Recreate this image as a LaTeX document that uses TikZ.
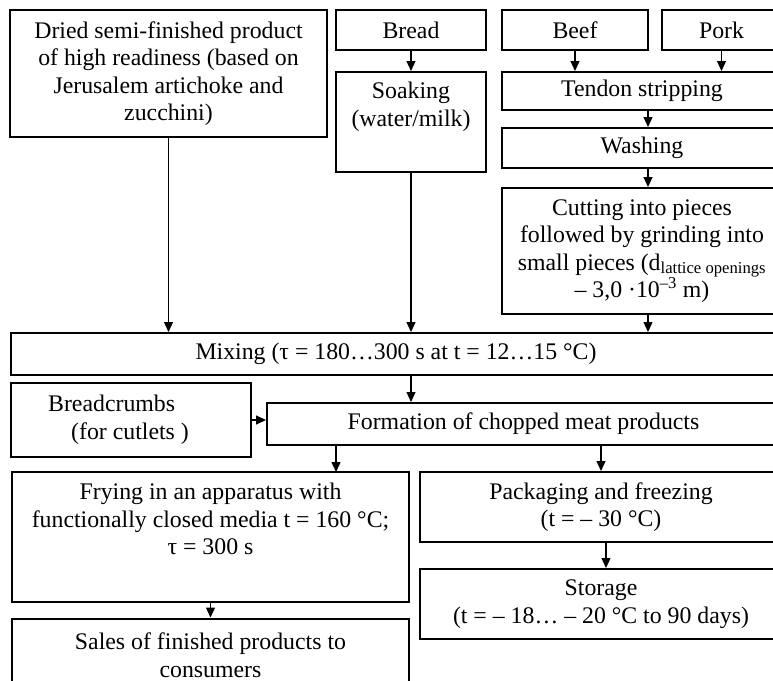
\documentclass[tikz,border=0pt]{standalone}
\usepackage{fontspec}
\setmainfont{Liberation Serif}
\usetikzlibrary{arrows.meta}

\begin{document}
\begin{tikzpicture}[x=1pt, y=-1pt,
		box/.style={draw, line width = 2pt, align=center, inner sep=0pt, font=\fontsize{23.8}{27.5}\selectfont},
		arr/.style={line width = 1.2pt, -{Triangle[length=10pt, width=9pt]}}]
		
		\useasboundingbox (0,0) rectangle (773,680);
		
		\node[box, minimum width=317pt, minimum height=127pt] (dried) at (168.5,73.5) {Dried semi-finished product\\of high readiness (based on\\Jerusalem artichoke and\\zucchini)};
		\node[box, minimum width=150pt, minimum height=40pt] (bread) at (411,30) {Bread};
		\node[box, minimum width=146pt, minimum height=40pt] (beef) at (575,30) {Beef};
		\node[box, minimum width=119pt, minimum height=40pt] (pork) at (721.5,30) {Pork};
		
		\node[box, minimum width=150pt, minimum height=100pt] (soak) at (411,122) {Soaking\\(water/milk)\\\strut};
		\node[box, minimum width=280pt, minimum height=38pt] (tendon) at (642,91) {Tendon stripping};
		\node[box, minimum width=280pt, minimum height=40pt] (wash) at (642,148) {Washing};
		\node[box, minimum width=280pt, minimum height=126pt] (cut) at (642,251) {Cutting into pieces\\followed by grinding into\\small pieces (d\textsubscript{lattice openings}\\– 3,0 ·10\textsuperscript{–3} m)};
		
		\node[box, minimum width=770pt, minimum height=42pt] (mix) at (396,354) {Mixing (τ = 180…300 s at t = 12…15 °C)};
		
		\node[box, minimum width=240pt, minimum height=74pt, align=left] (crumbs) at (131,420) {Breadcrumbs\\\hspace*{23pt}(for cutlets )\hspace*{25pt}};
		\node[box, minimum width=513pt, minimum height=42pt] (form) at (523.5,424) {Formation of chopped meat products};
		
		\node[box, minimum width=397pt, minimum height=130pt] (fry) at (210.5,537) {Frying in an apparatus with\\functionally closed media t = 160 °C;\\τ = 300 s\\\strut};
		\node[box, minimum width=362pt, minimum height=70pt] (pack) at (601,507) {Packaging and freezing\\(t = – 30 °C)};
		\node[box, minimum width=362pt, minimum height=70pt] (store) at (601,604) {Storage\\(t = – 18… – 20 °C to 90 days)};
		\node[box, minimum width=397pt, minimum height=73pt] (sales) at (210.5,655) {Sales of finished products to\\consumers};
		
		\coordinate (fryin) at (336,472);
		
		\draw[arr] (dried.south) -- (dried.south |- mix.north);
		\draw[arr] (bread) -- (soak);
		\draw[arr] (soak.south) -- (soak.south |- mix.north);
		\draw[arr] (beef.south) -- (beef.south |- tendon.north);
		\draw[arr] (pork.south) -- (pork.south |- tendon.north);
		\draw[arr] ([xshift=6pt]tendon.south) -- ([xshift=6pt]wash.north);
		\draw[arr] ([xshift=6pt]wash.south) -- ([xshift=6pt]cut.north);
		\draw[arr] ([xshift=6pt]cut.south) -- ([xshift=6pt]cut.south |- mix.north);
		
		\draw[arr] (soak.south |- mix.south) -- (soak.south |- form.north);
		\draw[arr] (crumbs.east) -- (crumbs.east -| form.west);
		
		\draw[arr] (form.south -| fryin) -- (fryin);
		\draw[arr] (pack.north |- form.south) -- (pack.north);
		\draw[arr] ([xshift=5pt]pack.south) -- ([xshift=5pt]store.north);
		\draw[arr] (fry) -- (sales);
		
	\end{tikzpicture}
\end{document}
